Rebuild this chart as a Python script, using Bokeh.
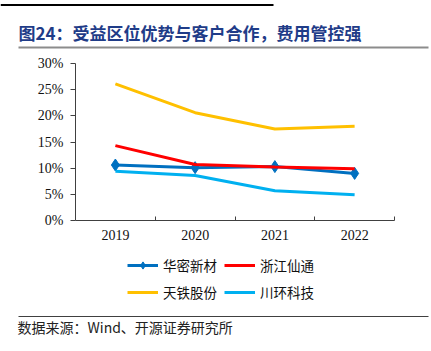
from bokeh.plotting import figure
from bokeh.layouts import column
from bokeh.models import (Range1d, FixedTicker, NumeralTickFormatter, Legend,
                          LegendItem, Label)
from bokeh.embed import file_html
from bokeh.resources import INLINE

years = ["2019", "2020", "2021", "2022"]
huami = [0.106, 0.101, 0.103, 0.090]       # 华密新材
zhejiang = [0.143, 0.107, 0.102, 0.099]    # 浙江仙通
tiantie = [0.261, 0.206, 0.175, 0.180]     # 天铁股份
chuanhuan = [0.094, 0.086, 0.057, 0.049]   # 川环科技
y_ticks = [0.0, 0.05, 0.10, 0.15, 0.20, 0.25, 0.30]
series_names = ["华密新材", "浙江仙通", "天铁股份", "川环科技"]
series_colors = ["#0070C0", "#FF0000", "#FFC000", "#00B0F0"]

title_text = "图24：受益区位优势与客户合作，费用管控强"
source_text = "数据来源：Wind、开源证券研究所"

W = 431
H_TOP, H_MID, H_BOT = 55, 195, 101
FL, FR, FT, FB = 75, 394, 63, 220   # frame edges in page pixels

serif = "Liberation Serif"
cjk = "Noto Sans CJK SC"
axis_col = "#404040"
NAN = float("nan")


def deco_fig(h):
    f = figure(width=W, height=h, x_range=Range1d(0, W), y_range=Range1d(h, 0),
               output_backend="svg", toolbar_location=None,
               x_axis_location=None, y_axis_location=None,
               min_border=0, min_border_left=0, min_border_right=0,
               min_border_top=0, min_border_bottom=0, frame_align=False)
    f.outline_line_color = None
    f.grid.visible = False
    return f


# ---------- top: title ----------
top = deco_fig(H_TOP)
top.segment(x0=[0], y0=[4.5], x1=[273], y1=[4.5], line_color="#000000", line_width=2)
top.segment(x0=[18], y0=[47], x1=[428], y1=[47], line_color="#8C8C8C", line_width=2)
top.add_layout(Label(x=18, y=32, text=title_text, text_font=cjk, text_font_size="17px",
                     text_font_style="bold", text_color="#1F3C88",
                     text_baseline="middle"))

# ---------- middle: chart ----------
xs = [i + 0.5 for i in range(len(years))]
bounds = [i + 1 for i in range(len(years))]

p = figure(width=W, height=H_MID, x_range=Range1d(0, len(years)), y_range=Range1d(0, 0.30),
           output_backend="svg", toolbar_location=None, frame_align=False,
           min_border_left=FL, min_border_right=W - FR, min_border_top=FT - H_TOP,
           min_border_bottom=H_TOP + H_MID - FB)
p.outline_line_color = None
p.grid.visible = False

xa = p.xaxis[0]
xa.ticker = FixedTicker(ticks=xs, minor_ticks=bounds)
xa.major_label_overrides = {x: y for x, y in zip(xs, years)}
xa.major_tick_line_color = None
xa.major_tick_out = 0
xa.major_tick_in = 0
xa.minor_tick_in = 4
xa.minor_tick_out = 0
xa.minor_tick_line_color = axis_col
xa.axis_line_color = axis_col
xa.major_label_text_font = serif
xa.major_label_text_font_size = "14px"
xa.major_label_text_color = "#111111"
xa.major_label_standoff = 9

ya = p.yaxis[0]
ya.ticker = FixedTicker(ticks=y_ticks)
ya.formatter = NumeralTickFormatter(format="0%")
ya.major_tick_out = 5
ya.major_tick_in = 0
ya.minor_tick_line_color = None
ya.axis_line_color = axis_col
ya.major_tick_line_color = axis_col
ya.major_label_text_font = serif
ya.major_label_text_font_size = "14px"
ya.major_label_text_color = "#111111"
ya.major_label_standoff = 7

p.line(xs, huami, line_color=series_colors[0], line_width=3)
p.scatter(xs, huami, marker="diamond", size=12, fill_color=series_colors[0], line_color=series_colors[0])
p.line(xs, zhejiang, line_color=series_colors[1], line_width=3)
p.line(xs, tiantie, line_color=series_colors[2], line_width=3)
p.line(xs, chuanhuan, line_color=series_colors[3], line_width=3)

# ---------- bottom: legend and source ----------
bot = deco_fig(H_BOT)
lg_r = []
for i, c in enumerate(series_colors):
    r = bot.line(x=[NAN], y=[NAN], line_color=c, line_width=3)
    if i == 0:
        s = bot.scatter(x=[NAN], y=[NAN], marker="diamond", size=12, fill_color=c, line_color=c)
        lg_r.append([r, s])
    else:
        lg_r.append([r])

legend = Legend(items=[LegendItem(label=n, renderers=rs) for n, rs in zip(series_names, lg_r)],
                orientation="horizontal", ncols=2, location=(127, H_BOT - (302 - H_TOP - H_MID)),
                padding=0, margin=0, spacing=7, glyph_width=31, glyph_height=18,
                label_height=18, label_standoff=5, background_fill_alpha=0,
                border_line_color=None, label_text_font=cjk, label_text_font_size="13.5px",
                label_text_color="#111111")
bot.add_layout(legend, "center")

y0 = H_TOP + H_MID
bot.segment(x0=[18], y0=[316 - y0], x1=[428], y1=[316 - y0], line_color="#404040", line_width=1)
bot.add_layout(Label(x=17, y=326 - y0, text=source_text, text_font=cjk, text_font_size="14px",
                     text_color="#222222", text_baseline="middle"))

layout = column(top, p, bot, spacing=0)
open("out.html", "w").write(file_html(layout, INLINE))
